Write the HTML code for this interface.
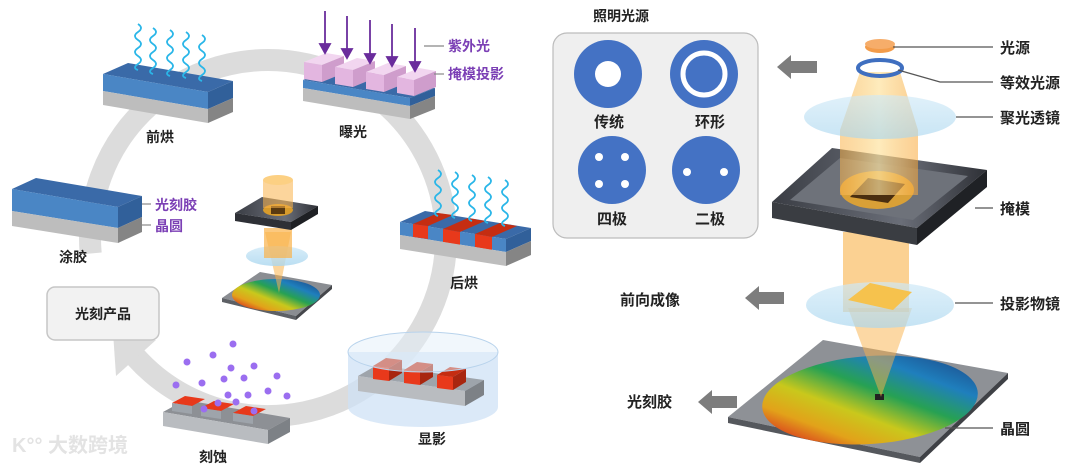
<!DOCTYPE html>
<html><head><meta charset="utf-8">
<style>
html,body{margin:0;padding:0;background:#fff;}
svg{display:block;}
text{font-family:"Liberation Sans","Noto Sans CJK SC",sans-serif;font-weight:bold;}
</style></head>
<body>
<svg width="1080" height="467" viewBox="0 0 1080 467" xmlns="http://www.w3.org/2000/svg">
<defs>
<linearGradient id="rb" x1="0.05" y1="0.9" x2="0.95" y2="0.1">
<stop offset="0" stop-color="#d81f1f"/><stop offset="0.2" stop-color="#e2a21a"/><stop offset="0.38" stop-color="#c9c81c"/><stop offset="0.58" stop-color="#27a153"/><stop offset="0.78" stop-color="#1f7fbd"/><stop offset="1" stop-color="#1c4d8c"/>
</linearGradient>
<linearGradient id="beam" x1="0" x2="1"><stop offset="0" stop-color="#f9b24a" stop-opacity="0.55"/><stop offset="0.5" stop-color="#fde3a0" stop-opacity="0.7"/><stop offset="1" stop-color="#f9a83a" stop-opacity="0.55"/></linearGradient>
<linearGradient id="mk" x1="0" x2="1"><stop offset="0" stop-color="#3a3d44"/><stop offset="0.6" stop-color="#6a6e78"/><stop offset="1" stop-color="#2e3036"/></linearGradient>
<linearGradient id="lens" x1="0" y1="0" x2="0" y2="1"><stop offset="0" stop-color="#cfe9f7" stop-opacity="0.8"/><stop offset="1" stop-color="#a9d6ef" stop-opacity="0.8"/></linearGradient>
</defs>

<!-- ring -->
<path d="M 90.7 253.5 A 178 178 0 1 1 135.7 357.1" fill="none" stroke="#dcdcdc" stroke-width="22"/>
<polygon points="116,376 156,340 113,332" fill="#dcdcdc"/>

<!-- 前烘 -->
<g>
<polygon points="103,74 128,63 233,81 208,92" fill="#3a6aa8"/>
<polygon points="103,74 208,92 208,109 103,91" fill="#4a86c5"/>
<polygon points="103,91 208,109 208,123 103,105" fill="#bdbdbd"/>
<polygon points="208,92 233,81 233,98 208,109" fill="#31609a"/>
<polygon points="208,109 233,98 233,112 208,123" fill="#858585"/>
<g fill="none" stroke="#2ab6e8" stroke-width="1.8">
<path d="M138 24 q6 4 0 8 q-6 4 0 8 q6 4 0 8 q-6 4 0 8 q6 4 0 8 q-6 4 0 6"/>
<path d="M153 28 q6 4 0 8 q-6 4 0 8 q6 4 0 8 q-6 4 0 8 q6 4 0 8 q-6 4 0 6"/>
<path d="M170 30 q6 4 0 8 q-6 4 0 8 q6 4 0 8 q-6 4 0 8 q6 4 0 8 q-6 4 0 6"/>
<path d="M186 32 q6 4 0 8 q-6 4 0 8 q6 4 0 8 q-6 4 0 8 q6 4 0 8 q-6 4 0 6"/>
<path d="M202 35 q6 4 0 8 q-6 4 0 8 q6 4 0 8 q-6 4 0 8 q6 4 0 8 q-6 4 0 6"/>
</g>
<text x="160" y="142" font-size="14" text-anchor="middle" fill="#222">前烘</text>
</g>

<!-- 曝光 -->
<g>
<polygon points="303,80 328,70 435,88 410,98" fill="#3a6aa8"/>
<polygon points="303,80 410,98 410,106 303,88" fill="#4a86c5"/>
<polygon points="303,88 410,106 410,119 303,101" fill="#bdbdbd"/>
<polygon points="410,98 435,88 435,96 410,106" fill="#31609a"/>
<polygon points="410,106 435,96 435,109 410,119" fill="#858585"/>
<g>
<polygon points="304,62 326,53 344,56 322,65" fill="#f2d6f0"/><polygon points="304,62 322,65 322,82 304,79" fill="#e3b6e0"/><polygon points="322,65 344,56 344,73 322,82" fill="#cf9dcc"/>
<polygon points="335,67 357,58 375,61 353,70" fill="#f2d6f0"/><polygon points="335,67 353,70 353,87 335,84" fill="#e3b6e0"/><polygon points="353,70 375,61 375,78 353,87" fill="#cf9dcc"/>
<polygon points="366,72 388,63 406,66 384,75" fill="#f2d6f0"/><polygon points="366,72 384,75 384,92 366,89" fill="#e3b6e0"/><polygon points="384,75 406,66 406,83 384,92" fill="#cf9dcc"/>
<polygon points="397,77 419,68 436,71 414,80" fill="#f2d6f0"/><polygon points="397,77 414,80 414,96 397,93" fill="#e3b6e0"/><polygon points="414,80 436,71 436,87 414,96" fill="#cf9dcc"/>
</g>
<g stroke="#6a2c9c" stroke-width="1.8" fill="#6a2c9c">
<line x1="325" y1="11" x2="325" y2="45"/><polygon points="320,44 330,44 325,53"/>
<line x1="347" y1="16" x2="347" y2="50"/><polygon points="342,49 352,49 347,58"/>
<line x1="370" y1="20" x2="370" y2="55"/><polygon points="365,54 375,54 370,63"/>
<line x1="392" y1="24" x2="392" y2="58"/><polygon points="387,57 397,57 392,66"/>
<line x1="415" y1="28" x2="415" y2="63"/><polygon points="410,62 420,62 415,71"/>
</g>
<line x1="424" y1="46" x2="444" y2="46" stroke="#888" stroke-width="1.2"/>
<line x1="434" y1="74" x2="444" y2="74" stroke="#888" stroke-width="1.2"/>
<text x="448" y="51" font-size="14" fill="#7b3fb5">紫外光</text>
<text x="448" y="79" font-size="14" fill="#7b3fb5">掩模投影</text>
<text x="353" y="137" font-size="14" text-anchor="middle" fill="#222">曝光</text>
</g>

<!-- 涂胶 -->
<g>
<polygon points="12,189 36,178 142,196 118,207" fill="#3a6aa8"/>
<polygon points="12,189 118,207 118,228 12,211" fill="#4a86c5"/>
<polygon points="12,211 118,228 118,243 12,226" fill="#bdbdbd"/>
<polygon points="118,207 142,196 142,217 118,228" fill="#31609a"/>
<polygon points="118,228 142,217 142,232 118,243" fill="#858585"/>
<line x1="142" y1="204" x2="151" y2="204" stroke="#888" stroke-width="1.2"/>
<line x1="142" y1="225" x2="151" y2="225" stroke="#888" stroke-width="1.2"/>
<text x="155" y="210" font-size="14" fill="#7b3fb5">光刻胶</text>
<text x="155" y="231" font-size="14" fill="#7b3fb5">晶圆</text>
<text x="73" y="262" font-size="14" text-anchor="middle" fill="#222">涂胶</text>
</g>

<!-- 后烘 -->
<g>
<polygon points="400,222 425,211 531,228 506,239" fill="#3a6aa8"/>
<polygon points="400,222 506,239 506,252 400,235" fill="#4a86c5"/>
<polygon points="413,224 428,226 428,239 413,237" fill="#e8391b"/>
<polygon points="443,229 460,232 460,245 443,242" fill="#e8391b"/>
<polygon points="475,234 492,237 492,250 475,247" fill="#e8391b"/>
<polygon points="413,224 438,213 453,215 428,226" fill="#c52d12"/>
<polygon points="443,229 468,218 485,221 460,232" fill="#c52d12"/>
<polygon points="475,234 500,223 517,226 492,237" fill="#c52d12"/>
<polygon points="400,235 506,252 506,266 400,249" fill="#bdbdbd"/>
<polygon points="506,239 531,228 531,241 506,252" fill="#31609a"/>
<polygon points="506,252 531,241 531,255 506,266" fill="#858585"/>
<g fill="none" stroke="#2ab6e8" stroke-width="1.8">
<path d="M438 170 q6 4 0 8 q-6 4 0 8 q6 4 0 8 q-6 4 0 8 q6 4 0 8 q-6 4 0 6"/>
<path d="M455 172 q6 4 0 8 q-6 4 0 8 q6 4 0 8 q-6 4 0 8 q6 4 0 8 q-6 4 0 6"/>
<path d="M472 175 q6 4 0 8 q-6 4 0 8 q6 4 0 8 q-6 4 0 8 q6 4 0 8 q-6 4 0 6"/>
<path d="M488 177 q6 4 0 8 q-6 4 0 8 q6 4 0 8 q-6 4 0 8 q6 4 0 8 q-6 4 0 6"/>
<path d="M505 180 q6 4 0 8 q-6 4 0 8 q6 4 0 8 q-6 4 0 8 q6 4 0 8 q-6 4 0 6"/>
</g>
<text x="464" y="288" font-size="14" text-anchor="middle" fill="#222">后烘</text>
</g>

<!-- 显影 -->
<g>
<path d="M348 352 L348 407 A75 20 0 0 0 498 407 L498 352 Z" fill="#cfe2f5" fill-opacity="0.75"/>
<polygon points="358,376 377,365 484,380 465,391" fill="#9ea4ab"/>
<polygon points="358,376 465,391 465,406 358,391" fill="#b9bcc0"/>
<polygon points="465,391 484,380 484,395 465,406" fill="#7d8186"/>
<polygon points="373,366 386,358 402,360 389,368" fill="#c52d12"/><polygon points="373,366 389,368 389,381 373,379" fill="#e8391b"/><polygon points="389,368 402,360 402,373 389,381" fill="#a82610"/>
<polygon points="404,370 417,362 433,364 420,372" fill="#c52d12"/><polygon points="404,370 420,372 420,385 404,383" fill="#e8391b"/><polygon points="420,372 433,364 433,377 420,385" fill="#a82610"/>
<polygon points="437,375 450,367 466,369 453,377" fill="#c52d12"/><polygon points="437,375 453,377 453,390 437,388" fill="#e8391b"/><polygon points="453,377 466,369 466,382 453,390" fill="#a82610"/>
<ellipse cx="423" cy="352" rx="75" ry="20" fill="#e4eff9" fill-opacity="0.5" stroke="#b8d3ec" stroke-width="1"/>
<text x="432" y="444" font-size="14" text-anchor="middle" fill="#222">显影</text>
</g>

<!-- 刻蚀 -->
<g>
<polygon points="163,412 185,400 290,418 268,430" fill="#8d9095"/>
<polygon points="163,412 268,430 268,444 163,426" fill="#b9bcc0"/>
<polygon points="268,430 290,418 290,432 268,444" fill="#7d8186"/>
<polygon points="172,403 185,396 205,399 192,406" fill="#e8391b"/><polygon points="172,403 192,406 192,414 172,411" fill="#9ea4ab"/>
<polygon points="201,408 214,401 234,404 221,411" fill="#e8391b"/><polygon points="201,408 221,411 221,419 201,416" fill="#9ea4ab"/>
<polygon points="233,413 246,406 266,409 253,416" fill="#e8391b"/><polygon points="233,413 253,416 253,424 233,421" fill="#9ea4ab"/>
<g fill="#9b6ef0">
<circle cx="233" cy="344" r="3.5"/><circle cx="213" cy="355" r="3.5"/><circle cx="187" cy="362" r="3.5"/><circle cx="231" cy="368" r="3.5"/><circle cx="254" cy="366" r="3.5"/><circle cx="176" cy="385" r="3.5"/><circle cx="202" cy="383" r="3.5"/><circle cx="224" cy="379" r="3.5"/><circle cx="244" cy="378" r="3.5"/><circle cx="277" cy="376" r="3.5"/><circle cx="268" cy="391" r="3.5"/><circle cx="228" cy="395" r="3.5"/><circle cx="248" cy="395" r="3.5"/><circle cx="236" cy="402" r="3.5"/><circle cx="204" cy="409" r="3.5"/><circle cx="254" cy="411" r="3.5"/><circle cx="287" cy="396" r="3.5"/><circle cx="218" cy="403" r="3.5"/>
</g>
<text x="213" y="462" font-size="14" text-anchor="middle" fill="#222">刻蚀</text>
</g>

<!-- 光刻产品 -->
<rect x="47" y="287" width="112" height="53" rx="8" fill="#f2f2f2" stroke="#c6c6c6" stroke-width="1.5"/>
<text x="103" y="319" font-size="14" text-anchor="middle" fill="#222">光刻产品</text>

<!-- mini illustration -->
<g>
<polygon points="222,298 260,272 332,285 296,316" fill="#8a8d92"/>
<polygon points="222,298 296,316 296,320 222,302" fill="#5d6065"/>
<polygon points="296,316 332,285 332,289 296,320" fill="#45474b"/>
<ellipse cx="276" cy="295" rx="44" ry="16" fill="url(#rb)"/>
<polygon points="265,232 291,232 279,293" fill="#f9b24a" fill-opacity="0.55"/>
<ellipse cx="277" cy="256" rx="31" ry="10" fill="url(#lens)"/>
<rect x="264" y="228" width="28" height="30" fill="#f9b24a" fill-opacity="0.7"/>
<polygon points="235,213 262,197 318,206 291,222" fill="url(#mk)"/>
<polygon points="235,213 291,222 291,230 235,221" fill="#2e3036"/>
<polygon points="291,222 318,206 318,214 291,230" fill="#1e2024"/>
<ellipse cx="278" cy="210" rx="15" ry="6" fill="#d79b2c"/>
<rect x="271" y="206" width="14" height="8" fill="#5a3a10"/>
<rect x="263" y="180" width="30" height="28" fill="#f9b24a" fill-opacity="0.55"/>
<ellipse cx="278" cy="180" rx="15" ry="5" fill="#fcd083"/>
</g>

<!-- watermark -->
<text x="12" y="452" font-size="20" fill="#e3e3e3" font-weight="bold">K°° 大数跨境</text>

<!-- right: illumination box -->
<text x="621" y="21" font-size="14" text-anchor="middle" fill="#222">照明光源</text>
<rect x="553" y="33" width="205" height="205" rx="14" fill="#efefef" stroke="#bcbcbc" stroke-width="1.2"/>
<g fill="#4472c4">
<circle cx="608" cy="74" r="34"/><circle cx="704" cy="74" r="34"/><circle cx="612" cy="170" r="34"/><circle cx="706" cy="170" r="34"/>
</g>
<circle cx="608" cy="74" r="13" fill="#fff"/>
<circle cx="704" cy="74" r="21" fill="none" stroke="#fff" stroke-width="5"/>
<g fill="#fff"><circle cx="599" cy="157" r="4"/><circle cx="625" cy="157" r="4"/><circle cx="599" cy="184" r="4"/><circle cx="625" cy="184" r="4"/><circle cx="687" cy="172" r="4"/><circle cx="724" cy="172" r="4"/></g>
<text x="609" y="127" font-size="15" text-anchor="middle" fill="#222">传统</text>
<text x="710" y="127" font-size="15" text-anchor="middle" fill="#222">环形</text>
<text x="612" y="224" font-size="15" text-anchor="middle" fill="#222">四极</text>
<text x="710" y="224" font-size="15" text-anchor="middle" fill="#222">二极</text>

<!-- gray arrows -->
<g fill="#7d7d7d">
<polygon points="777,67 791,55 791,61 817,61 817,73 791,73 791,79"/>
<polygon points="745,298 759,286 759,292 784,292 784,304 759,304 759,310"/>
<polygon points="698,402 712,390 712,396 737,396 737,408 712,408 712,414"/>
</g>
<text x="620" y="305" font-size="15" text-anchor="start" fill="#222">前向成像</text>
<text x="627" y="407" font-size="15" fill="#222">光刻胶</text>

<!-- optics column -->
<g>
<polygon points="728,417 823,340 1008,373 920,457" fill="#8e9196"/>
<polygon points="728,417 920,457 920,463 728,423" fill="#55585d"/>
<polygon points="920,457 1008,373 1008,379 920,463" fill="#3f4146"/>
<ellipse cx="870" cy="400" rx="108" ry="44" fill="url(#rb)" transform="rotate(-4 870 400)"/>
<rect x="875" y="394" width="9" height="6" fill="#222"/>
<polygon points="848,308 912,308 881,397" fill="#f9b24a" fill-opacity="0.5"/>
<rect x="843" y="232" width="66" height="80" fill="#f9b24a" fill-opacity="0.6"/>
<ellipse cx="880" cy="305" rx="74" ry="23" fill="url(#lens)" fill-opacity="0.85"/>
<polygon points="848,300 870,283 912,292 893,310" fill="#f6c24d"/>
<polygon points="772,202 832,148 987,170 917,228" fill="url(#mk)"/>
<polygon points="790,200 840,158 968,176 913,220" fill="#6e727a"/>
<polygon points="772,202 917,228 917,245 772,218" fill="#3a3d42"/>
<polygon points="917,228 987,170 987,187 917,245" fill="#1f2125"/>
<ellipse cx="877" cy="190" rx="37" ry="19" fill="#d9a037"/>
<polygon points="850,197 868,178 905,184 888,203" fill="#4a2e10"/>
<path d="M860 72 L900 72 L918 130 L918 195 L840 195 L840 130 Z" fill="url(#beam)"/>
<ellipse cx="880" cy="117" rx="76" ry="22" fill="url(#lens)" fill-opacity="0.8"/>
<ellipse cx="880" cy="68" rx="22" ry="8" fill="none" stroke="#3f6fc0" stroke-width="4"/>
<ellipse cx="880" cy="47" rx="15" ry="6" fill="#f39c4a"/>
<ellipse cx="880" cy="44" rx="15" ry="5" fill="#f6ad6a"/>
</g>
<g stroke="#555" stroke-width="1.2" fill="none">
<line x1="893" y1="47" x2="993" y2="47"/>
<polyline points="898,70 940,82 993,82"/>
<line x1="956" y1="117" x2="993" y2="117"/>
<line x1="975" y1="208" x2="993" y2="208"/>
<line x1="955" y1="303" x2="993" y2="303"/>
<line x1="945" y1="428" x2="993" y2="428"/>
</g>
<g font-size="15" fill="#222">
<text x="1000" y="53">光源</text>
<text x="1000" y="88">等效光源</text>
<text x="1000" y="123">聚光透镜</text>
<text x="1000" y="214">掩模</text>
<text x="1000" y="309">投影物镜</text>
<text x="1000" y="434">晶圆</text>
</g>
</svg>
</body></html>
